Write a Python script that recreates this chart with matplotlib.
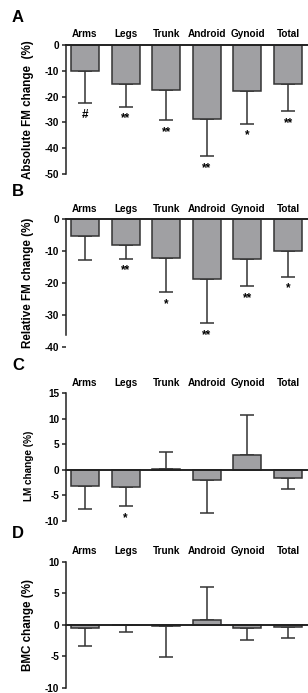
import matplotlib

matplotlib.use("Agg")
import matplotlib.pyplot as plt

plt.rcParams["font.family"] = ["Liberation Sans", "DejaVu Sans"]
plt.rcParams["font.weight"] = "bold"

regions = ["Arms", "Legs", "Trunk", "Android", "Gynoid", "Total"]

# mean change and SD (one-sided error bar) per panel
abs_fm_mean = [-10.0, -15.0, -17.4, -28.8, -18.0, -15.0]
abs_fm_sd = [12.6, 9.0, 11.8, 14.4, 12.5, 10.7]
abs_fm_sig = ["#", "**", "**", "**", "*", "**"]

rel_fm_mean = [-5.3, -8.1, -12.0, -18.6, -12.4, -10.0]
rel_fm_sd = [7.5, 4.3, 10.9, 14.0, 8.6, 8.1]
rel_fm_sig = ["", "**", "*", "**", "**", "*"]

lm_mean = [-3.1, -3.4, 0.2, -2.0, 2.8, -1.6]
lm_sd = [4.7, 3.8, 3.3, 6.5, 7.9, 2.1]
lm_sig = ["", "*", "", "", "", ""]

bmc_mean = [-0.5, -0.1, -0.2, 0.8, -0.5, -0.3]
bmc_sd = [2.8, 1.1, 4.9, 5.2, 1.9, 1.8]
bmc_sig = ["", "", "", "", "", ""]

panels = [
    dict(letter="A", ylabel="Absolute FM change  (%)", mean=abs_fm_mean, sd=abs_fm_sd, sig=abs_fm_sig,
         ylim=(-50, 0), ticks=[0, -10, -20, -30, -40, -50], spine=(-50, 0),
         top=45.0, bottom=174.0, lab_size=8.4, lab_y=0.5),
    dict(letter="B", ylabel="Relative FM change (%)", mean=rel_fm_mean, sd=rel_fm_sd, sig=rel_fm_sig,
         ylim=(-40, 0), ticks=[0, -10, -20, -30, -40], spine=(-36.4, 0),
         top=219.3, bottom=346.7, lab_size=8.4, lab_y=0.5),
    dict(letter="C", ylabel="LM change (%)", mean=lm_mean, sd=lm_sd, sig=lm_sig,
         ylim=(-10, 15), ticks=[15, 10, 5, 0, -5, -10], spine=(-10, 15),
         top=393.3, bottom=520.7, lab_size=7.2, lab_y=0.43),
    dict(letter="D", ylabel="BMC change (%)", mean=bmc_mean, sd=bmc_sd, sig=bmc_sig,
         ylim=(-10, 10), ticks=[10, 5, 0, -5, -10], spine=(-10, 10),
         top=561.5, bottom=688.0, lab_size=8.4, lab_y=0.5),
]

W, H = 308, 693
fig = plt.figure(figsize=(W / 100, H / 100), dpi=100)

x_left, x_right = 65.7, 308.0
xs = list(range(len(regions)))

for p in panels:
    ax = fig.add_axes([x_left / W, 1 - p["bottom"] / H, (x_right - x_left) / W, (p["bottom"] - p["top"]) / H])
    means = p["mean"]
    lower = [s if m < 0 else 0 for m, s in zip(means, p["sd"])]
    upper = [s if m >= 0 else 0 for m, s in zip(means, p["sd"])]
    ax.bar(xs, means, width=0.69, color="#a0a0a3", edgecolor="#333333", linewidth=1.1, zorder=2)
    ax.errorbar(xs, means, yerr=[lower, upper], fmt="none", ecolor="#333333",
                elinewidth=1.1, capsize=4.8, capthick=1.1, zorder=1)
    ax.axhline(0, color="#222222", linewidth=1.4, zorder=3, clip_on=False)

    for x, m, lo, s in zip(xs, means, lower, p["sig"]):
        if s:
            ax.annotate(s, xy=(x, m - lo), xytext=(0, -4), textcoords="offset points",
                        ha="center", va="top", fontsize=8.5, fontweight="bold")
    for x, name in zip(xs, regions):
        ax.annotate(name, xy=(x, 1), xycoords=("data", "axes fraction"), xytext=(0, 7.6),
                    textcoords="offset points", ha="center", va="center", fontsize=7.2,
                    fontweight="bold")

    ax.set_xlim(-0.475, 5.49)
    ax.set_ylim(*p["ylim"])
    ax.set_yticks(p["ticks"])
    ax.set_yticklabels([str(t) for t in p["ticks"]], fontsize=7.2, fontweight="bold")
    ax.set_xticks([])
    for side in ["top", "right", "bottom"]:
        ax.spines[side].set_visible(False)
    ax.spines["left"].set_bounds(*p["spine"])
    ax.spines["left"].set_linewidth(1.1)
    ax.spines["left"].set_color("#222222")
    ax.tick_params(axis="y", length=3.2, width=1.1, pad=1.5, color="#222222")
    ax.patch.set_alpha(0)

    ax.text((28.5 - x_left) / (x_right - x_left), p["lab_y"], p["ylabel"], transform=ax.transAxes,
            rotation=90, ha="center", va="center", fontsize=p["lab_size"], fontweight="bold")
    fig.text(12 / W, 1 - (p["top"] - 28) / H, p["letter"], ha="left", va="center",
             fontsize=12, fontweight="bold")

fig.savefig("out.png", dpi=100)
